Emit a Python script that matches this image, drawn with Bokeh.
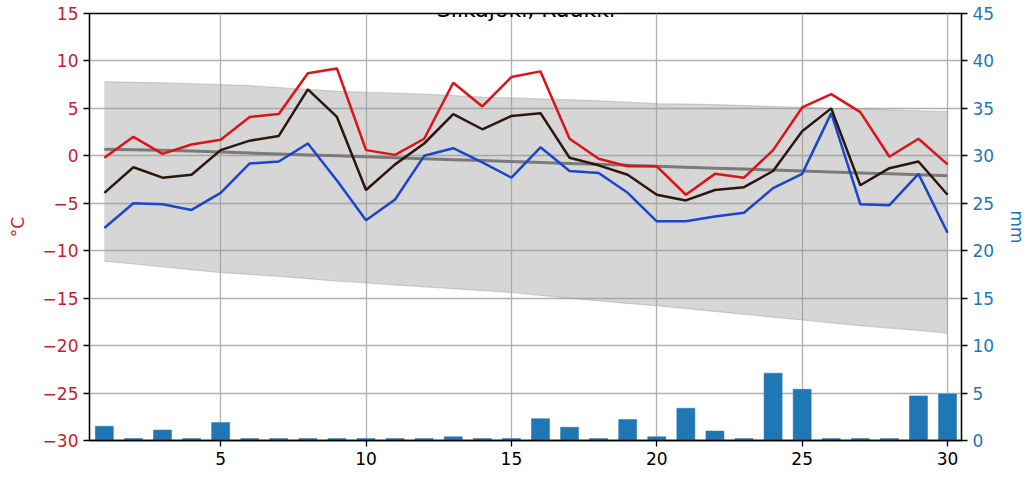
from bokeh.plotting import figure
from bokeh.models import Range1d, LinearAxis, FixedTicker, Label, ColumnDataSource
from bokeh.embed import file_html
from bokeh.resources import INLINE

title_text = "Siikajoki, Ruukki"
days = list(range(1, 31))

t_max = [-0.2, 2.0, 0.2, 1.2, 1.7, 4.1, 4.4, 8.7, 9.2, 0.6,
         0.1, 1.8, 7.7, 5.2, 8.3, 8.9, 1.8, -0.3, -1.1, -1.1,
         -4.1, -1.9, -2.3, 0.6, 5.1, 6.5, 4.6, -0.1, 1.8, -0.9]
t_mean = [-3.9, -1.2, -2.3, -2.0, 0.6, 1.6, 2.1, 7.0, 4.1, -3.6,
          -0.9, 1.3, 4.4, 2.8, 4.2, 4.5, -0.2, -1.0, -2.0, -4.1,
          -4.7, -3.6, -3.3, -1.6, 2.6, 5.0, -3.1, -1.3, -0.6, -4.1]
t_min = [-7.6, -5.0, -5.1, -5.7, -3.9, -0.8, -0.6, 1.3, -2.6, -6.8,
         -4.6, 0.0, 0.8, -0.7, -2.3, 0.9, -1.6, -1.8, -3.9, -6.9,
         -6.9, -6.4, -6.0, -3.4, -1.9, 4.5, -5.1, -5.2, -1.9, -8.1]
precip = [1.5, 0.2, 1.1, 0.2, 1.9, 0.2, 0.2, 0.2, 0.2, 0.2,
          0.2, 0.2, 0.4, 0.2, 0.2, 2.3, 1.4, 0.2, 2.2, 0.4,
          3.4, 1.0, 0.2, 7.1, 5.4, 0.2, 0.2, 0.2, 4.7, 4.9]
clim_mean = [0.7, 0.65, 0.6, 0.5, 0.4, 0.3, 0.2, 0.1, 0.0, -0.1,
             -0.2, -0.3, -0.4, -0.5, -0.6, -0.7, -0.8, -0.9, -1.0, -1.1,
             -1.2, -1.3, -1.4, -1.5, -1.6, -1.7, -1.8, -1.9, -2.0, -2.1]
clim_hi = [7.8, 7.75, 7.7, 7.6, 7.5, 7.4, 7.2, 7.0, 6.8, 6.7,
           6.6, 6.5, 6.35, 6.2, 6.1, 6.0, 5.9, 5.8, 5.65, 5.5,
           5.45, 5.4, 5.3, 5.2, 5.1, 5.0, 4.95, 4.85, 4.75, 4.65]
clim_lo = [-11.1, -11.4, -11.7, -12.0, -12.3, -12.5, -12.7, -12.95, -13.2, -13.4,
           -13.6, -13.8, -14.0, -14.2, -14.4, -14.7, -15.0, -15.3, -15.55, -15.8,
           -16.1, -16.4, -16.7, -17.0, -17.3, -17.6, -17.9, -18.15, -18.4, -18.7]

temp_ticks = [-30, -25, -20, -15, -10, -5, 0, 5, 10, 15]
mm_ticks = [0, 5, 10, 15, 20, 25, 30, 35, 40, 45]
x_ticks = [5, 10, 15, 20, 25, 30]

FONT = "DejaVu Sans"
RED_TXT = "#c41e2c"
BLUE_TXT = "#1f77b4"

src = ColumnDataSource(dict(day=days, tmax=t_max, tmean=t_mean, tmin=t_min,
                            prec=precip, cmean=clim_mean, chi=clim_hi, clo=clim_lo))

p = figure(width=1034, height=484, x_range=Range1d(0.49, 30.48), y_range=Range1d(-30, 15),
           output_backend="svg", toolbar_location=None,
           min_border_left=89, min_border_right=73, min_border_top=13, min_border_bottom=44)
p.extra_y_ranges = {"mm": Range1d(0, 45)}

p.outline_line_color = "black"
p.outline_line_width = 1.3
p.background_fill_color = "white"
p.border_fill_color = "white"

# grids
p.xgrid.ticker = FixedTicker(ticks=x_ticks)
p.ygrid.ticker = FixedTicker(ticks=temp_ticks)
for g in (p.xgrid, p.ygrid):
    g.grid_line_color = "#b0b0b0"
    g.grid_line_width = 1.3

# bars (precip)
p.vbar(x="day", top="prec", bottom=0, width=0.62, source=src, y_range_name="mm",
       fill_color="#1f77b4", line_color="#1f77b4", line_width=0.5)

# climatological band
p.varea(x="day", y1="clo", y2="chi", source=src, fill_color="#999999", fill_alpha=0.4)
p.line(x="day", y="chi", source=src, line_color="#999999", line_alpha=0.4, line_width=1.2)
p.line(x="day", y="clo", source=src, line_color="#999999", line_alpha=0.4, line_width=1.2)
p.line(x="day", y="cmean", source=src, line_color="#7a7a7a", line_width=3)

# observed lines
p.line(x="day", y="tmin", source=src, line_color="#1a46cc", line_width=2.5)
p.line(x="day", y="tmean", source=src, line_color="#2b170c", line_width=2.5)
p.line(x="day", y="tmax", source=src, line_color="#dc1318", line_width=2.5)

# axes
xa = p.xaxis[0]
xa.ticker = FixedTicker(ticks=x_ticks)
ya = p.yaxis[0]
ya.ticker = FixedTicker(ticks=temp_ticks)
ya.major_label_overrides = {v: (("\u2212" + str(abs(v))) if v < 0 else str(v)) for v in temp_ticks}
ya.axis_label = "\u00b0C"
ya.axis_label_text_color = RED_TXT
ya.major_label_text_color = RED_TXT
ya.axis_label_standoff = 12

ra = LinearAxis(y_range_name="mm", ticker=FixedTicker(ticks=mm_ticks), axis_label="mm")
ra.axis_label_text_color = BLUE_TXT
ra.major_label_text_color = BLUE_TXT
ra.axis_label_standoff = 10
p.add_layout(ra, "right")

for ax in (xa, ya, ra):
    ax.axis_line_color = "black"
    ax.axis_line_width = 1.3
    ax.major_tick_line_color = "black"
    ax.major_tick_line_width = 1.3
    ax.major_tick_out = 6
    ax.major_tick_in = 0
    ax.minor_tick_line_color = None
    ax.major_label_text_font = FONT
    ax.major_label_text_font_size = "17px"
    ax.axis_label_text_font = FONT
    ax.axis_label_text_font_size = "17px"
    ax.axis_label_text_font_style = "normal"
    ax.major_label_standoff = 5
xa.major_label_text_color = "black"

title = Label(x=15.5, y=15, x_units="data", y_units="data", text=title_text,
              text_align="center", text_baseline="alphabetic", y_offset=4,
              text_font=FONT, text_font_size="22px", text_color="black")
p.add_layout(title)

open("out.html", "w").write(file_html(p, INLINE))
